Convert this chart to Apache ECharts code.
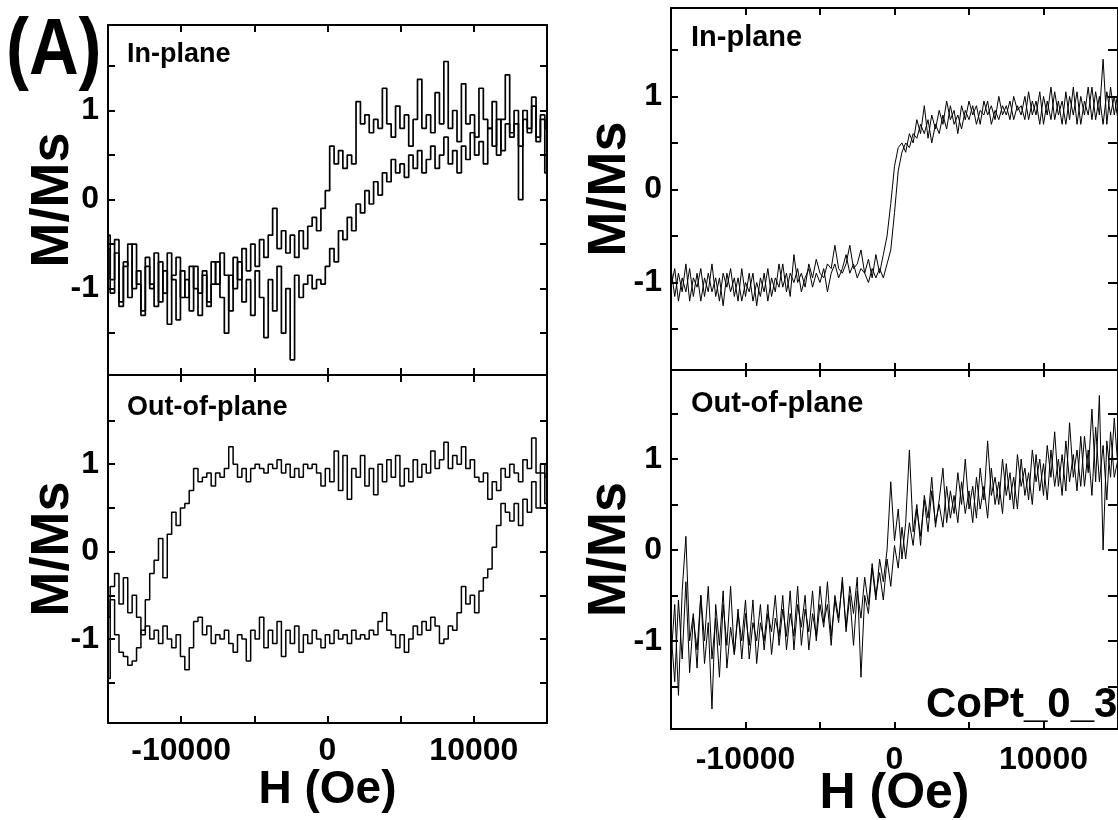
<!DOCTYPE html>
<html>
<head>
<meta charset="utf-8">
<script src="https://cdn.jsdelivr.net/npm/echarts@6/dist/echarts.min.js"></script>
<style>
html,body{margin:0;padding:0;background:#fff;}
#chart{width:1118px;height:820px;}
</style>
</head>
<body>
<div id="chart"></div>
<script>
// ---- Field sweep (Oe) ----
const FIELD_MIN = -15000;
const LEFT_STEP = 300;   // left (A) panels sampling
const RIGHT_STEP = 250;  // right panels sampling

// ---- Tick values ----
const xLabelTicks = [-10000, 0, 10000];
const xAllTicks = [-10000, -5000, 0, 5000, 10000];
const yLabelTicks = [-1, 0, 1];
const yAllTicks = [-1.5, -1, -0.5, 0, 0.5, 1, 1.5];

// ---- Panel labels ----
const panelLabels = ["In-plane", "Out-of-plane"];
const figureLabel = "(A)";
const sampleLabel = "CoPt_0_3";
const xTitle = "H (Oe)";
const yTitle = "M/Ms";

// ---- (A) In-plane, M/Ms ----
const A_inplane_up = [-0.55,-1.05,-0.45,-1.2,-0.7,-1.1,-0.5,-0.95,-1.3,-0.75,-1.0,-0.6,-1.15,-0.8,-1.4,-0.85,-0.65,-1.1,-0.9,-1.25,
-0.75,-1.05,-0.8,-1.2,-0.95,-0.7,-1.1,-1.5,-0.85,-1.0,-0.7,-1.15,-0.9,-1.3,-0.8,-1.1,-1.55,-0.9,-1.25,-0.75,
-1.5,-1.0,-1.8,-0.85,-1.1,-0.95,-0.85,-1.0,-0.9,-0.95,-0.75,-0.55,-0.7,-0.35,-0.45,-0.2,-0.35,-0.05,-0.15,0.1,
-0.05,0.2,0.05,0.3,0.2,0.45,0.3,0.4,0.25,0.5,0.35,0.55,0.3,0.45,0.6,0.35,0.5,0.7,0.4,0.55,
0.3,0.6,0.45,0.75,0.5,0.65,0.4,0.8,0.6,0.9,0.55,0.85,0.7,1.0,0.6,0.9,0.75,1.05,0.65,0.95,0.8];
const A_inplane_down = [-0.4,-0.9,-0.6,-1.15,-0.75,-0.5,-1.0,-0.8,-1.25,-0.65,-0.95,-1.2,-0.7,-1.05,-0.6,-0.9,-1.35,-0.8,-1.1,-0.75,
-1.0,-1.3,-0.85,-1.15,-0.7,-0.95,-0.6,-0.85,-1.25,-0.65,-0.9,-0.55,-0.8,-0.5,-0.75,-0.45,-0.65,-0.4,-0.1,-0.55,
-0.35,-0.6,-0.4,-0.65,-0.35,-0.55,-0.3,-0.2,-0.35,-0.1,0.1,0.6,0.4,0.55,0.35,0.5,0.4,1.1,0.85,0.95,
0.75,0.9,0.8,1.25,0.85,0.7,1.05,0.8,0.95,0.6,0.9,1.35,0.8,0.95,0.75,1.2,0.85,1.55,0.8,1.0,
0.65,1.3,0.85,0.95,0.7,1.25,0.9,0.8,1.1,0.5,0.9,1.4,0.75,0.85,0.0,1.0,0.8,1.15,0.7,0.9,0.3];

// ---- (A) Out-of-plane, M/Ms ----
const A_outplane_up = [-1.45,-0.4,-0.25,-0.6,-0.3,-0.7,-0.5,-0.75,-0.95,-0.85,-1.0,-0.9,-1.05,-0.85,-1.0,-1.1,-0.95,-1.2,-1.35,-1.1,
-0.8,-0.75,-0.95,-0.85,-1.05,-0.95,-1.0,-0.9,-1.05,-1.15,-0.95,-1.0,-1.25,-0.9,-1.0,-0.75,-1.1,-0.9,-1.05,-0.8,
-1.2,-0.9,-1.05,-0.85,-1.15,-0.95,-1.05,-0.9,-1.0,-1.1,-0.95,-1.05,-0.9,-1.0,-0.95,-1.05,-0.9,-1.0,-0.95,-1.0,
-0.9,-0.95,-0.8,-0.7,-0.9,-0.95,-1.1,-0.95,-1.15,-1.0,-0.85,-0.95,-0.8,-0.9,-0.75,-0.85,-1.05,-1.0,-0.85,-0.9,
-0.7,-0.4,-0.6,-0.5,-0.7,-0.45,-0.3,-0.2,0.05,0.3,0.55,0.45,0.35,0.55,0.3,0.6,0.45,0.8,0.5,0.9,0.55];
const A_outplane_down = [-0.75,-0.55,-0.95,-1.15,-1.2,-1.3,-1.25,-1.1,-0.9,-0.55,-0.25,-0.1,0.15,-0.3,0.2,0.45,0.3,0.5,0.55,0.7,
0.95,0.8,0.85,0.9,0.75,0.9,0.85,0.95,1.2,1.0,0.85,0.95,0.8,0.95,1.0,0.95,0.9,1.0,0.95,1.05,
0.9,1.0,0.85,0.95,0.85,1.0,0.95,1.0,0.9,0.75,0.95,0.8,1.15,0.7,1.1,0.6,0.95,0.85,1.1,0.75,
0.95,0.65,1.0,0.8,1.05,0.85,1.1,0.75,0.95,0.8,1.05,0.85,1.0,0.9,1.15,0.95,1.05,1.25,0.95,1.1,
1.0,1.2,0.95,1.05,0.85,0.8,0.9,0.6,0.8,0.7,0.95,0.85,1.0,0.9,0.8,1.05,0.95,1.3,0.9,1.0,0.85];

// ---- CoPt_0_3 In-plane, M/Ms ----
const B_inplane_up = [-0.85,-1.15,-0.9,-1.1,-0.8,-1.2,-0.95,-1.05,-0.85,-1.15,-0.9,-1.1,-0.95,-1.2,-0.9,-1.05,-0.85,-1.15,-0.95,-1.2,
-1.0,-1.1,-0.9,-1.25,-0.95,-1.1,-0.85,-1.15,-0.95,-1.05,-0.8,-1.1,-0.9,-1.0,-0.85,-1.1,-0.95,-0.85,-1.05,-0.9,
-1.0,-0.85,-1.1,-0.9,-0.8,-0.95,-0.85,-0.7,-0.9,-0.8,-0.95,-0.85,-0.9,-1.0,-0.85,-0.95,-0.85,-0.95,-0.8,-0.65,
-0.25,0.2,0.4,0.5,0.45,0.6,0.55,0.7,0.6,0.75,0.5,0.7,0.6,0.8,0.65,0.9,0.7,0.8,0.65,0.85,
0.75,0.9,0.7,0.85,0.8,0.95,0.7,0.85,0.75,0.9,0.8,0.95,0.75,0.9,0.8,1.0,0.75,0.95,0.8,1.05,
0.7,0.95,0.75,1.05,0.8,0.95,0.7,1.0,0.8,1.05,0.7,0.95,0.8,1.1,0.75,1.0,0.7,1.05,0.8,1.0,0.75];
const B_inplane_down = [-1.05,-0.85,-1.2,-0.95,-1.1,-0.85,-1.15,-0.9,-1.2,-0.95,-1.1,-0.8,-1.15,-0.95,-1.25,-0.9,-1.1,-0.95,-1.2,-0.85,
-1.15,-0.9,-1.2,-1.0,-1.15,-0.9,-1.2,-0.95,-1.1,-0.8,-1.05,-0.9,-1.15,-0.7,-1.0,-0.9,-1.05,-0.8,-0.95,-0.75,
-0.9,-0.95,-0.8,-0.85,-0.6,-0.85,-0.9,-0.8,-0.6,-0.85,-0.8,-0.65,-0.9,-0.75,-0.95,-0.7,-0.9,-0.7,-0.5,-0.15,
0.25,0.45,0.5,0.4,0.6,0.5,0.75,0.6,0.9,0.55,0.8,0.65,0.85,0.7,0.95,0.75,0.85,0.6,0.9,0.75,
0.95,0.8,0.9,0.7,0.95,0.8,0.9,0.75,1.0,0.8,0.9,0.75,1.0,0.85,0.9,0.75,1.05,0.8,0.95,0.7,
1.0,0.8,1.1,0.75,0.95,0.7,1.05,0.75,1.1,0.7,1.0,0.8,1.1,0.75,1.05,0.8,1.4,0.7,1.1,0.8,1.05];

// ---- CoPt_0_3 Out-of-plane, M/Ms ----
const B_outplane_up = [-0.9,-1.45,-0.55,-1.2,-0.35,-1.35,-0.75,-1.1,-0.5,-1.25,-0.8,-1.75,-0.6,-1.05,-0.45,-1.3,-0.85,-1.15,-0.65,-1.2,
-0.7,-1.05,-0.55,-1.25,-0.8,-1.0,-0.6,-1.15,-0.75,-0.95,-0.5,-1.1,-0.7,-0.95,-0.4,-1.05,-0.65,-0.9,-0.45,-1.0,
-0.6,-0.85,-0.35,-0.95,-0.55,-0.8,-0.3,-0.9,-0.5,-1.05,-0.45,-0.75,-0.3,-0.6,-0.15,-0.5,-0.25,-0.55,-0.1,-0.4,
0.05,-0.2,0.25,-0.1,0.3,0.05,0.45,0.15,0.55,0.2,0.65,0.3,0.5,0.25,0.7,0.35,0.6,0.3,0.75,0.4,
0.65,0.3,0.8,0.45,0.7,0.35,0.9,0.5,0.75,0.4,0.95,0.55,0.8,0.45,1.0,0.6,0.85,0.5,1.05,0.65,
0.95,0.55,1.1,0.7,1.0,0.6,1.2,0.75,1.05,0.65,1.25,0.7,1.1,0.6,1.35,0.75,1.15,0.55,1.3,0.8,1.0];
const B_outplane_down = [-1.2,-0.6,-1.6,-0.45,0.15,-1.0,-0.7,-1.3,-0.5,-1.0,-0.4,-1.2,-0.75,-1.4,-0.6,-1.05,-0.4,-1.15,-0.7,-1.0,
-0.55,-1.2,-0.8,-1.0,-0.6,-1.1,-0.7,-0.9,-0.5,-1.05,-0.65,-0.95,-0.45,-1.1,-0.6,-0.85,-0.5,-1.1,-0.7,-0.95,
-0.4,-0.8,-0.6,-1.05,-0.5,-0.75,-0.35,-0.85,-0.4,-0.7,-0.3,-1.4,-0.5,-0.7,-0.2,-0.55,-0.1,-0.35,0.0,0.75,
0.1,0.45,-0.1,0.3,1.1,0.2,0.5,0.05,0.6,0.35,0.8,0.25,0.55,0.9,0.3,0.65,0.4,0.85,0.5,1.0,
0.45,0.7,0.35,0.9,0.55,1.2,0.6,0.8,0.5,1.0,0.6,0.85,0.45,1.05,0.7,0.9,0.55,1.1,0.75,1.0,
0.6,1.15,0.8,1.3,0.7,1.05,0.65,1.4,0.8,1.1,0.7,1.25,0.85,1.55,0.75,1.7,0.0,1.2,0.8,1.45,0.9];

function toPairs(vals, step) {
  return vals.map(function (v, i) { return [FIELD_MIN + i * step, v]; });
}

const FONT = "Liberation Sans, Arial, Helvetica, sans-serif";

const grids = [
  { left: 108, top: 25, width: 439, height: 350 },
  { left: 108, top: 375, width: 439, height: 348 },
  { left: 671, top: 8, width: 454, height: 362 },
  { left: 671, top: 370, width: 454, height: 362 }
];
const yRanges = [[-1.97, 1.96], [-1.96, 2.02], [-1.94, 1.95], [-1.97, 1.98]];
const showXLabels = [false, true, false, true];
const xLabelMargins = [12, 12, 12, 15];
const xNameGaps = [0, 44, 0, 40];
const xNameSizes = [46, 46, 50, 50];
const yNameGaps = [28, 28, 34, 34];
const rightTickLen = [7, 7, 10, 10];

const lineStyleAxis = { color: "#000", width: 2 };
function plain(v) { return String(v); }

const xAxes = [], yAxes = [];
grids.forEach(function (g, gi) {
  xAxes.push({
    type: "value", gridIndex: gi, position: "bottom", min: FIELD_MIN, max: -FIELD_MIN,
    axisLine: { show: true, onZero: false, lineStyle: lineStyleAxis },
    axisTick: { show: true, inside: true, length: 7, lineStyle: { color: "#000", width: 2 }, customValues: xAllTicks },
    axisLabel: { show: showXLabels[gi], customValues: xLabelTicks, formatter: plain, color: "#000", fontSize: 32, fontWeight: "bold", fontFamily: FONT, margin: xLabelMargins[gi] },
    splitLine: { show: false },
    name: showXLabels[gi] ? xTitle : "", nameLocation: "middle", nameGap: xNameGaps[gi], nameMoveOverlap: false,
    nameTextStyle: { color: "#000", fontSize: xNameSizes[gi], fontWeight: "bold", fontFamily: FONT, verticalAlign: "top" }
  });
  xAxes.push({
    type: "value", gridIndex: gi, position: "top", min: FIELD_MIN, max: -FIELD_MIN,
    axisLine: { show: true, onZero: false, lineStyle: lineStyleAxis },
    axisTick: { show: true, inside: true, length: 7, lineStyle: { color: "#000", width: 2 }, customValues: xAllTicks },
    axisLabel: { show: false }, splitLine: { show: false }
  });
  yAxes.push({
    type: "value", gridIndex: gi, position: "left", min: yRanges[gi][0], max: yRanges[gi][1],
    axisLine: { show: true, onZero: false, lineStyle: lineStyleAxis },
    axisTick: { show: true, inside: true, length: 7, lineStyle: { color: "#000", width: 2 }, customValues: yAllTicks },
    axisLabel: { show: true, customValues: yLabelTicks, formatter: plain, color: "#000", fontSize: 32, fontWeight: "bold", fontFamily: FONT, margin: 9 },
    splitLine: { show: false },
    name: yTitle, nameLocation: "middle", nameGap: yNameGaps[gi], nameMoveOverlap: false,
    nameTextStyle: { color: "#000", fontSize: 54, fontWeight: "bold", fontFamily: FONT }
  });
  yAxes.push({
    type: "value", gridIndex: gi, position: "right", min: yRanges[gi][0], max: yRanges[gi][1],
    axisLine: { show: true, onZero: false, lineStyle: lineStyleAxis },
    axisTick: { show: true, inside: true, length: rightTickLen[gi], lineStyle: { color: "#000", width: 2 }, customValues: yAllTicks },
    axisLabel: { show: false }, splitLine: { show: false }
  });
});

function series(gi, vals, step, stepped, width) {
  return {
    type: "line", xAxisIndex: gi * 2, yAxisIndex: gi * 2, data: toPairs(vals, step),
    showSymbol: false, symbol: "none", step: stepped ? "middle" : false, animation: false,
    lineStyle: { color: "#000", width: width }, emphasis: { disabled: true }
  };
}

const option = {
  backgroundColor: "#fff",
  animation: false,
  textStyle: { fontFamily: FONT },
  title: [
    { text: panelLabels[0], left: 122, top: 36, textStyle: { fontSize: 27, fontWeight: "bold", color: "#000", fontFamily: FONT } },
    { text: panelLabels[1], left: 122, top: 389, textStyle: { fontSize: 27, fontWeight: "bold", color: "#000", fontFamily: FONT } },
    { text: panelLabels[0], left: 686, top: 18, textStyle: { fontSize: 29, fontWeight: "bold", color: "#000", fontFamily: FONT } },
    { text: panelLabels[1], left: 686, top: 384, textStyle: { fontSize: 29, fontWeight: "bold", color: "#000", fontFamily: FONT } },
    { text: sampleLabel, left: 921, top: 679, textStyle: { fontSize: 42, fontWeight: "bold", color: "#000", fontFamily: FONT } }
  ],
  graphic: [
    { type: "text", x: 6, y: 12, scaleX: 0.86, scaleY: 1, silent: true,
      style: { text: figureLabel, font: "bold 80px " + FONT, fill: "#000", verticalAlign: "top", textVerticalAlign: "top" } }
  ],
  grid: grids,
  xAxis: xAxes,
  yAxis: yAxes,
  series: [
    series(0, A_inplane_up, LEFT_STEP, true, 1.7),
    series(0, A_inplane_down, LEFT_STEP, true, 1.7),
    series(1, A_outplane_up, LEFT_STEP, true, 1.5),
    series(1, A_outplane_down, LEFT_STEP, true, 1.5),
    series(2, B_inplane_up, RIGHT_STEP, false, 1),
    series(2, B_inplane_down, RIGHT_STEP, false, 1),
    series(3, B_outplane_up, RIGHT_STEP, false, 1),
    series(3, B_outplane_down, RIGHT_STEP, false, 1)
  ]
};

const chart = echarts.init(document.getElementById("chart"), null, { renderer: "canvas" });
chart.setOption(option);
</script>
</body>
</html>
